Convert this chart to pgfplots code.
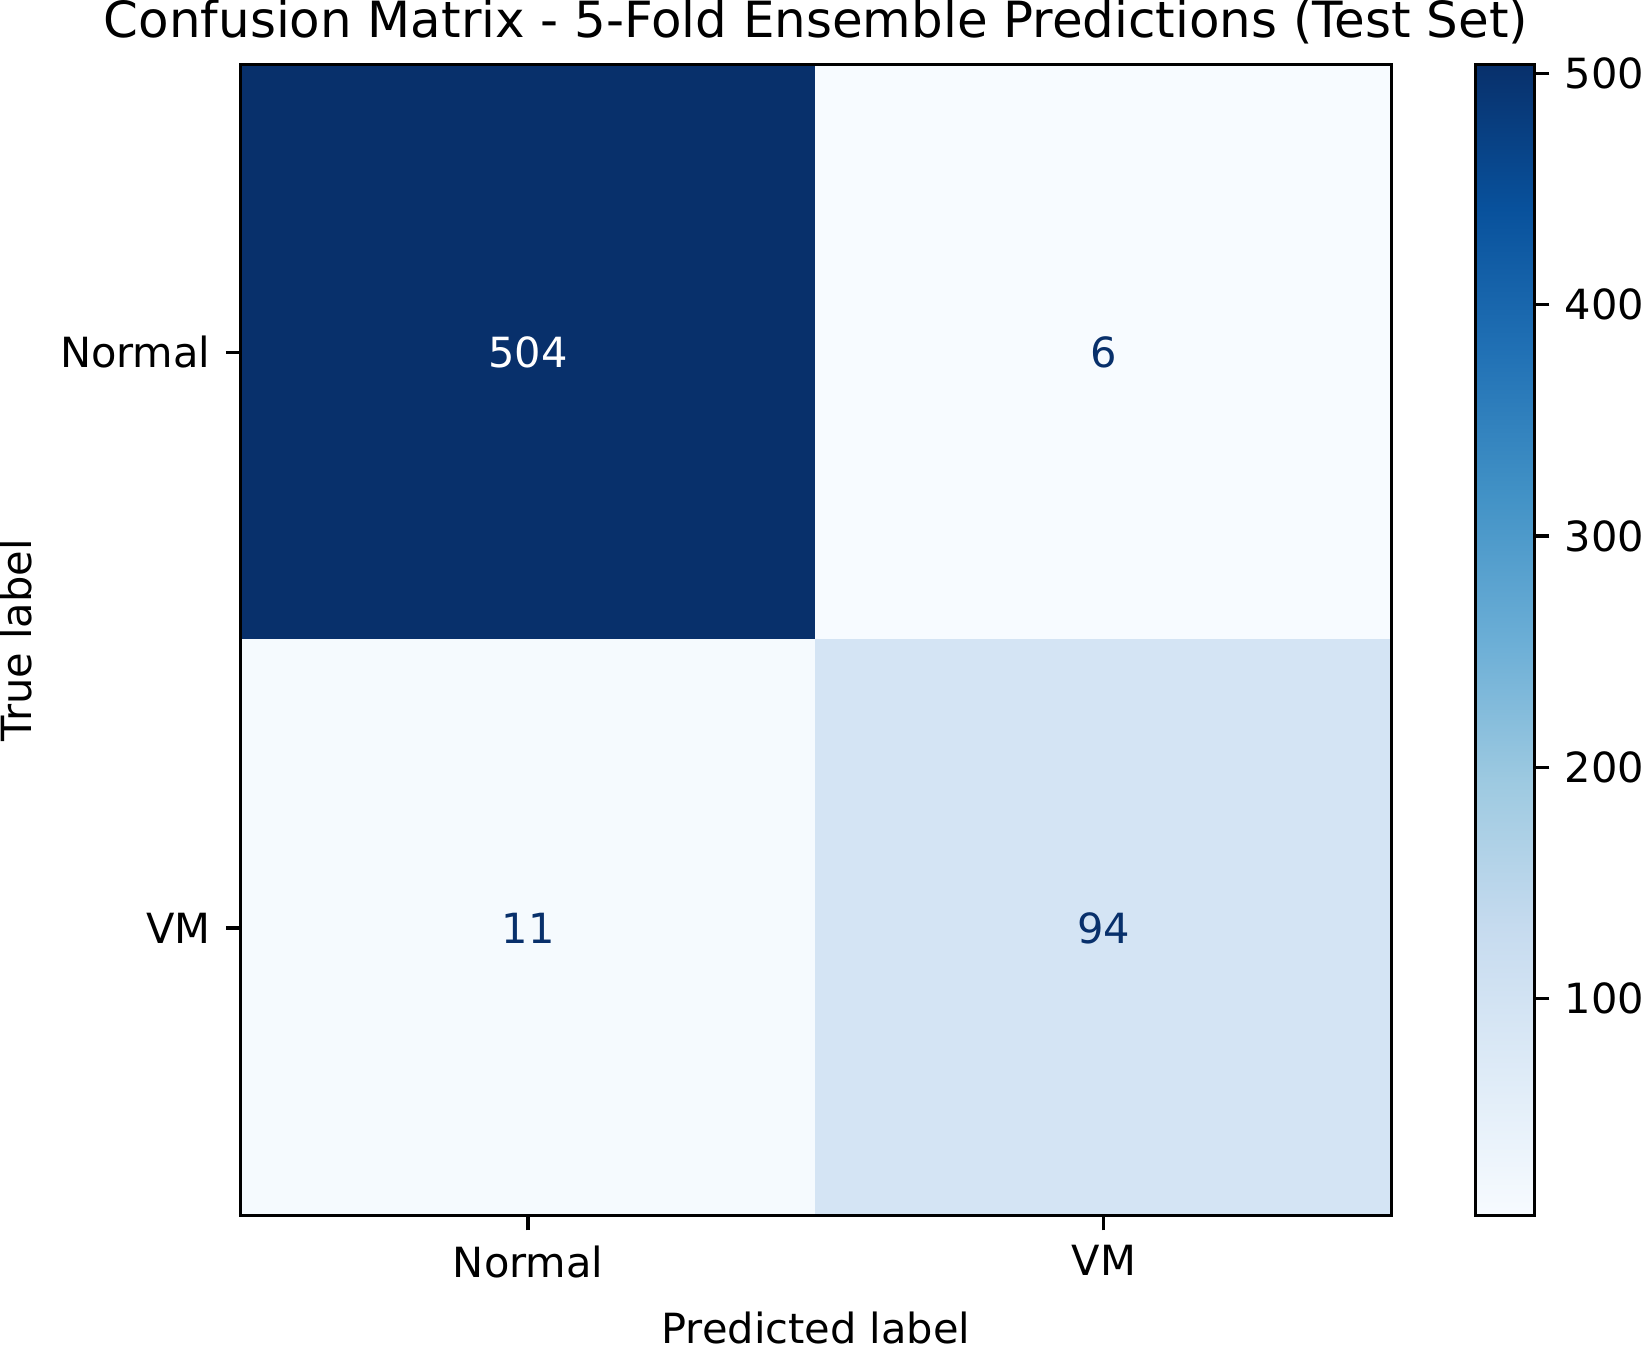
\documentclass[border=0pt]{standalone}
\usepackage{fontspec}
\setmainfont{DejaVu Sans}
\usepackage{pgfplots}
\pgfplotsset{compat=1.18}

\definecolor{cmdark}{RGB}{8,48,107}

\pgfplotstableread{
x y c
0 0 504
1 0 6
0 1 11
1 1 94
}\cmdata

\begin{document}
\begin{tikzpicture}
\begin{axis}[
	scale only axis,
	width=277pt, height=277pt,
	axis on top,
	xmin=-0.5, xmax=1.5, ymin=-0.5, ymax=1.5,
	y dir=reverse,
	xtick={0,1}, ytick={0,1},
	xticklabels={Normal,VM}, yticklabels={Normal,VM},
	xtick pos=lower, ytick pos=left,
	tick align=outside,
	major tick length=3.5pt,
	tick style={line width=0.8pt, black},
	axis line style={line width=0.8pt},
	ticklabel style={font=\fontsize{10}{12}\selectfont},
	xticklabel style={inner sep=0pt, yshift=-3.5pt},
	yticklabel style={inner sep=0pt, xshift=-3.5pt},
	title={Confusion Matrix - 5-Fold Ensemble Predictions (Test Set)},
	title style={font=\fontsize{12}{14.4}\selectfont, inner sep=0pt, yshift=-1.4pt},
	xlabel={Predicted label}, ylabel={True label},
	label style={font=\fontsize{10}{12}\selectfont, inner sep=0pt},
	xlabel style={text depth=1.2pt},
	xlabel shift=7.9pt, ylabel shift=6.5pt,
	colormap={blues}{rgb255=(247,251,255) rgb255=(222,235,247) rgb255=(198,219,239) rgb255=(158,202,225) rgb255=(107,174,214) rgb255=(66,146,198) rgb255=(33,113,181) rgb255=(8,81,156) rgb255=(8,48,107)},
	point meta min=6, point meta max=504,
	colorbar,
	colorbar style={
		scale only axis,
		width=14.2pt, height=277pt,
		at={(parent axis.north east)}, anchor=north west, xshift=11.7pt,
		ytick={100,200,300,400,500},
		ytick pos=right, yticklabel pos=right,
		tick align=outside,
		major tick length=3.5pt,
		tick style={line width=0.8pt, black},
		axis line style={line width=0.8pt},
		yticklabel style={font=\fontsize{10}{12}\selectfont, inner sep=0pt, xshift=3.5pt, /pgf/number format/assume math mode=true},
	},
]
\addplot[matrix plot*, mesh/cols=2, point meta=explicit] table[x=x, y=y, meta=c] {\cmdata};
\addplot[draw=none, mark=none, nodes near coords, point meta=explicit symbolic,
	nodes near coords style={anchor=center, text=white, font=\fontsize{10}{12}\selectfont}]
	coordinates {(0,0) [504]};
\addplot[draw=none, mark=none, nodes near coords, point meta=explicit symbolic,
	nodes near coords style={anchor=center, text=cmdark, font=\fontsize{10}{12}\selectfont}]
	coordinates {(1,0) [6] (0,1) [11] (1,1) [94]};
\end{axis}
\end{tikzpicture}
\end{document}
